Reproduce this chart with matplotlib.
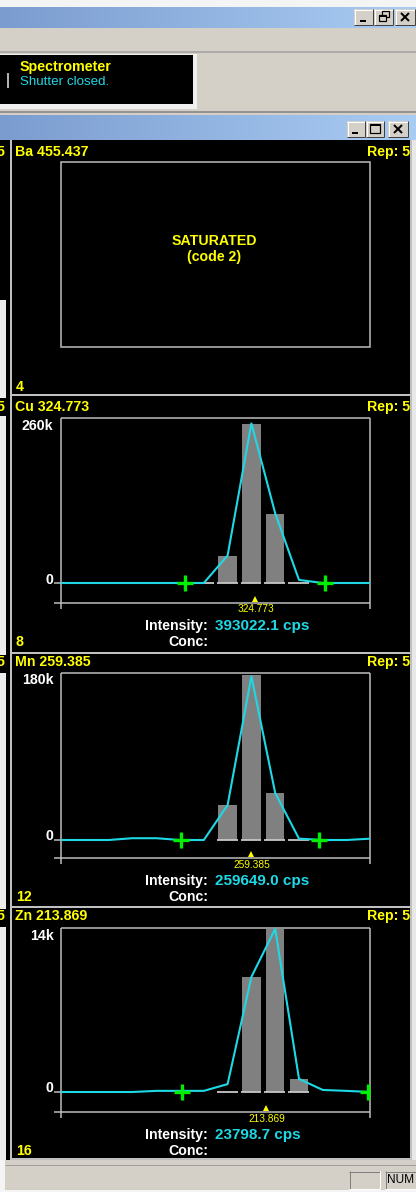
import numpy as np
import matplotlib
matplotlib.use('Agg')
import matplotlib.pyplot as plt
from matplotlib.patches import Rectangle
from matplotlib.colors import LinearSegmentedColormap
import matplotlib.transforms as mtransforms

plt.rcParams['font.family'] = ['Liberation Sans', 'DejaVu Sans']

# ---------------- data ----------------
channels = np.arange(14)

cu_trace = [0, 0, 0, 0, 0, 0, 0, 45000, 261000, 114000, 5000, 0, 0, 0]
cu_bars = [0, 0, 0, 0, 0, 0, 0, 44000, 260000, 113000, 0, 0, 0, 0]
cu_dash = [6, 7, 8, 9, 10]
cu_marks = [5.22, 11.1]
cu_peak = 8.17
cu_label = '324.773'
cu_ticks = [0, 260000]
cu_ticklabels = ['0', '260k']
cu_intensity = '393022.1 cps'

mn_trace = [0, 0, 0, 2000, 2000, 0, 0, 39000, 183000, 52500, 1500, 0, 0, 1500]
mn_bars = [0, 0, 0, 0, 0, 0, 0, 39000, 184000, 52500, 0, 0, 0, 0]
mn_dash = [7, 8, 9, 10]
mn_marks = [5.05, 10.86]
mn_peak = 8.0
mn_label = '259.385'
mn_ticks = [0, 180000]
mn_ticklabels = ['0', '180k']
mn_intensity = '259649.0 cps'

zn_trace = [0, 0, 0, 0, 100, 100, 100, 700, 10200, 14450, 1160, 180, 100, 0]
zn_bars = [0, 0, 0, 0, 0, 0, 0, 0, 10200, 14450, 1160, 0, 0, 0]
zn_dash = [7, 8, 9, 10]
zn_marks = [5.09, 12.9]
zn_peak = 8.63
zn_label = '213.869'
zn_ticks = [0, 14000]
zn_ticklabels = ['0', '14k']
zn_intensity = '23798.7 cps'

panel_titles = ['Ba 455.437', 'Cu 324.773', 'Mn 259.385', 'Zn 213.869']
panel_numbers = ['4', '8', '12', '16']

# ---------------- figure / chrome ----------------
W, H, DPI = 416, 1192, 100
PX = 72.0 / DPI  # points per pixel
fig = plt.figure(figsize=(W / DPI, H / DPI), dpi=DPI)
fig.patch.set_facecolor('#d4d0c8')
bg = fig.add_axes([0, 0, 1, 1])
bg.axis('off')

WIN = '#d4d0c8'
GRAY = '#c0c0c0'
YEL = '#ffff00'
CYAN = '#1ed8e6'
WHITE = '#ffffff'
FS = 10.2


def rect(x0, y0, x1, y1, fc, z=1, ec='none', lw=0):
    bg.add_patch(Rectangle((x0, y0), x1 - x0, y1 - y0, facecolor=fc,
                           edgecolor=ec, linewidth=lw, zorder=z))


def line(xs, ys, color, px=1.0, z=2):
    bg.plot(xs, ys, color=color, lw=px * PX, zorder=z, solid_capstyle='butt')


grad = LinearSegmentedColormap.from_list('tb', ['#7b9ccf', '#a9ccf3'])


def titlebar(y0, y1):
    bg.imshow(np.linspace(0, 1, 256)[None, :], extent=(0, W, y1, y0),
              cmap=grad, aspect='auto', zorder=1)


def button(x0, y0, x1, y1, kind):
    rect(x0, y0, x1, y1, WIN, z=3)
    line([x0, x1], [y0 + 0.5, y0 + 0.5], WHITE, 1, 4)
    line([x0 + 0.5, x0 + 0.5], [y0, y1], WHITE, 1, 4)
    line([x0, x1], [y1 - 0.5, y1 - 0.5], '#404040', 1, 4)
    line([x1 - 0.5, x1 - 0.5], [y0, y1], '#404040', 1, 4)
    cx, cy = (x0 + x1) / 2, (y0 + y1) / 2
    k = 'black'
    if kind == 'min':
        line([cx - 4, cx + 2], [cy + 4, cy + 4], k, 2, 5)
    elif kind == 'max':
        bg.add_patch(Rectangle((cx - 5, cy - 5), 10, 9, fill=False, edgecolor=k,
                               lw=1.2 * PX, zorder=5))
        line([cx - 5, cx + 5], [cy - 4.5, cy - 4.5], k, 2, 5)
    elif kind == 'restore':
        bg.add_patch(Rectangle((cx - 2, cy - 6), 7, 6, fill=False, edgecolor=k,
                               lw=1.2 * PX, zorder=5))
        rect(cx - 5, cy - 2, cx + 2, cy + 5, WIN, z=5)
        bg.add_patch(Rectangle((cx - 5, cy - 2), 7, 6, fill=False, edgecolor=k,
                               lw=1.2 * PX, zorder=6))
        line([cx - 5, cx + 2], [cy - 1.5, cy - 1.5], k, 2, 6)
    elif kind == 'close':
        line([cx - 4, cx + 4], [cy - 4, cy + 4], k, 2, 5)
        line([cx - 4, cx + 4], [cy + 4, cy - 4], k, 2, 5)


# top strip + first window
rect(0, 0, W, 7, '#f4f4f4', z=0.5)
titlebar(7, 28)
button(354, 9, 373, 25, 'min')
button(374, 9, 393, 25, 'restore')
button(395, 9, 415, 25, 'close')
line([0, W], [52, 52], '#a0a0a0', 1.5, 2)
rect(0, 54, 197, 109, '#f0f0f0', z=1)
rect(0, 55, 193, 104, 'black', z=2)
line([8, 8], [73, 88], '#b0b0b0', 2, 3)
bg.text(20, 67, 'Spectrometer', color=YEL, fontsize=10.3, fontweight='bold',
        va='center', ha='left', zorder=4)
bg.text(20, 82, 'Shutter closed.', color=CYAN, fontsize=9.6,
        va='center', ha='left', zorder=4)
line([0, W], [111.5, 111.5], '#808080', 1.5, 2)

# second window
titlebar(115, 140)
button(347, 121, 365, 137, 'min')
button(366, 121, 384, 137, 'max')
button(388, 121, 408, 137, 'close')

rect(0, 140, 411, 1160, 'black', z=1)
rect(410, 140, W, 1167, '#e8e8e8', z=1)
line([410.5, 410.5], [140, 1160], GRAY, 2, 2)
line([10.5, 10.5], [140, 1160], GRAY, 2, 2)
# left strip of the neighbouring column
rect(0, 300, 5.5, 1160, '#ececec', z=1.5)
for yb in (398, 655, 909):
    rect(0, yb, 5.5, yb + 18, 'black', z=1.6)

# panel separators
for ys in (395, 653, 907, 1159):
    line([10, 411], [ys, ys], GRAY, 2, 2)

# status bar
rect(0, 1160, W, 1192, WIN, z=1)
line([5, W], [1164.5, 1164.5], '#a0a0a0', 1, 2)
rect(0, 1190, W, 1192, '#f4f4f4', z=2)
rect(0, 1160, 5, 1192, '#f4f4f4', z=2)
for (bx0, bx1) in ((349, 380), (385, 416)):
    line([bx0, bx1], [1171.5, 1171.5], '#808080', 1, 3)
    line([bx0 + 0.5, bx0 + 0.5], [1171, 1189], '#808080', 1, 3)
    line([bx0, bx1], [1188.5, 1188.5], WHITE, 1, 3)
    line([bx1 - 0.5, bx1 - 0.5], [1171, 1189], WHITE, 1, 3)
bg.text(387, 1180, 'NUM', color='black', fontsize=8.6, va='center', ha='left', zorder=4)

# panel headers and numbers
header_y = [152, 407, 662, 916]
number_y = [387, 642, 897, 1151]
for t, hy, n, ny in zip(panel_titles, header_y, panel_numbers, number_y):
    bg.text(15, hy, t, color=YEL, fontsize=FS, fontweight='bold', va='center', zorder=4)
    bg.text(410, hy, 'Rep: 5', color=YEL, fontsize=FS, fontweight='bold',
            va='center', ha='right', zorder=4)
    bg.text(4, hy, '5', color=YEL, fontsize=FS, fontweight='bold',
            va='center', ha='right', zorder=4)
    bg.text(16, ny, n, color=YEL, fontsize=FS, fontweight='bold', va='center', zorder=4)

# Ba saturated box
bg.add_patch(Rectangle((61, 162), 309, 185, fill=False, edgecolor=GRAY,
                       lw=1.5 * PX, zorder=3))
bg.text(214, 241, 'SATURATED', color=YEL, fontsize=FS, fontweight='bold',
        ha='center', va='center', zorder=4)
bg.text(214, 257, '(code 2)', color=YEL, fontsize=FS, fontweight='bold',
        ha='center', va='center', zorder=4)

bg.set_xlim(0, W)
bg.set_ylim(H, 0)


# ---------------- spectrum panels ----------------
def spectrum_panel(box_top, axis_y, base_y, label_y, trace, bars, dash, marks,
                   peak, peak_label, ticks, ticklabels, intensity):
    x0, x1 = 61.0, 370.4
    wpx, hpx = x1 - x0, axis_y - box_top
    ax = fig.add_axes([x0 / W, 1 - axis_y / H, wpx / W, hpx / H])
    ax.patch.set_alpha(0)
    for sp in ax.spines.values():
        sp.set_visible(False)
    s = ticks[1] / (base_y - label_y)
    ax.set_xlim(channels[0], channels[-1])
    ax.set_ylim(-(axis_y - base_y) * s, (base_y - box_top) * s)

    lw = 1.5 * PX
    kw = dict(transform=ax.transAxes, color=GRAY, lw=lw, clip_on=False, zorder=1,
              solid_capstyle='butt')
    ext = 5.5 / hpx
    ax.plot([0, 0], [-ext, 1], **kw)
    ax.plot([1, 1], [-ext, 1], **kw)
    ax.plot([0, 1], [1, 1], **kw)
    ax.plot([-7 / wpx, 1], [0, 0], **kw)

    ch = np.asarray(channels)
    b = np.asarray(bars, dtype=float)
    m = b > 0
    ax.bar(ch[m], b[m], width=0.78, color='#808080', zorder=2)
    d = np.asarray(dash)
    ax.hlines(np.zeros(len(d)), d - 0.45, d + 0.42, color='#c8c8c8', lw=1.3, zorder=2.5)
    ax.plot(ch, trace, color=CYAN, lw=1.5, zorder=3)
    ax.plot(marks, np.zeros(len(marks)), '+', ms=12, mew=2.4, color='#00ee00', zorder=4)

    # y ticks: "0" with a tick, top value without
    ax.set_yticks([ticks[0]], labels=[ticklabels[0]])
    ax.set_yticks([ticks[1]], labels=[ticklabels[1]], minor=True)
    ax.tick_params(axis='y', which='major', length=7 * PX, width=lw, color=GRAY,
                   pad=1 * PX, labelcolor=WHITE, labelsize=FS)
    ax.tick_params(axis='y', which='minor', length=0, pad=7.5 * PX,
                   labelcolor=WHITE, labelsize=FS)
    for lab in ax.get_yticklabels() + ax.get_yticklabels(minor=True):
        lab.set_fontweight('bold')
    off = mtransforms.ScaledTranslation(0, 5 / DPI, fig.dpi_scale_trans)
    for lab in ax.get_yticklabels():
        lab.set_transform(lab.get_transform() + off)

    ax.set_xticks([peak], labels=[peak_label])
    ax.tick_params(axis='x', length=0, pad=1.5 * PX, labelcolor=YEL, labelsize=7.3)
    tri = mtransforms.blended_transform_factory(ax.transData, ax.transAxes)
    ax.plot([peak], [4.5 / hpx], '^', ms=4.5, color=YEL, mew=0, transform=tri,
            clip_on=False, zorder=4)

    bg.text(208, axis_y + 23, 'Intensity:', color=WHITE, fontsize=FS,
            fontweight='bold', ha='right', va='center', zorder=4)
    bg.text(215, axis_y + 23, intensity, color=CYAN, fontsize=FS + 0.8,
            fontweight='bold', ha='left', va='center', zorder=4)
    bg.text(208, axis_y + 39, 'Conc:', color=WHITE, fontsize=FS,
            fontweight='bold', ha='right', va='center', zorder=4)
    return ax


spectrum_panel(418, 603, 583, 424, cu_trace, cu_bars, cu_dash, cu_marks,
               cu_peak, cu_label, cu_ticks, cu_ticklabels, cu_intensity)
spectrum_panel(673, 858, 840, 679, mn_trace, mn_bars, mn_dash, mn_marks,
               mn_peak, mn_label, mn_ticks, mn_ticklabels, mn_intensity)
spectrum_panel(928, 1112, 1092, 934, zn_trace, zn_bars, zn_dash, zn_marks,
               zn_peak, zn_label, zn_ticks, zn_ticklabels, zn_intensity)

fig.savefig('out.png', dpi=DPI, facecolor=fig.get_facecolor())
